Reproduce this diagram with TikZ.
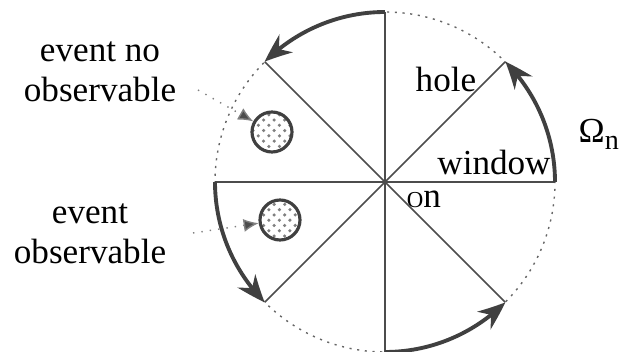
\documentclass[tikz,border=0pt]{standalone}
\usepackage{fontspec}
\setmainfont{Liberation Serif}
\usetikzlibrary{arrows.meta,patterns,bending}

\begin{document}
\begin{tikzpicture}[line join=round, font=\fontsize{10}{11.4}\selectfont,
  spoke/.style={draw=black!70, line width=0.5pt},
  winarc/.style={draw=black!75, line width=1.1pt, -{Stealth[length=2.8mm,width=2.2mm,bend]}},
  event/.style={circle, draw=black!75, line width=0.9pt, minimum size=0.40cm, inner sep=0pt,
    pattern=crosshatch dots, pattern color=black!50},
  pointer/.style={draw=black!50, dotted, -{Latex[length=1.5mm,width=1.3mm,fill=black!70]}}]
\useasboundingbox (0,0) rectangle (6.23,3.52);
\coordinate (c) at (3.85,1.70);
% dotted rim and the eight spokes
\draw[black!60, dash pattern=on 0.6pt off 1.6pt] (c) circle (1.7);
\foreach \a in {0,45,...,315}
  \draw[spoke] (c) -- ++(\a:1.7);
% windows
\foreach \a in {0,90,180,270}
  \draw[winarc] (c) ++(\a:1.7) arc[start angle=\a, end angle=\a+45, radius=1.7];
\node[anchor=base] (hole) at (4.46,2.60) {hole};
\node[anchor=base] (window) at (4.94,1.77) {window};
\node[anchor=base] (origin) at (4.24,1.44) {{\fontsize{6.5}{7}\selectfont O}n};
\node[anchor=base west, inner sep=0pt] (omega) at (5.78,2.09) {Ω\raisebox{-0.4ex}{\footnotesize n}};
% events
\node[event] (dotA) at (2.72,2.20) {};
\node[event] (dotB) at (2.80,1.32) {};
\node[align=center] (lblA) at (1.00,2.80) {event no\\observable};
\node[align=center] (lblB) at (0.90,1.18) {event\\observable};
\coordinate (pA) at (1.98,2.62);
\coordinate (pB) at (1.93,1.19);
\draw[pointer] (pA) -- (dotA);
\draw[pointer] (pB) -- (dotB);
\end{tikzpicture}
\end{document}
